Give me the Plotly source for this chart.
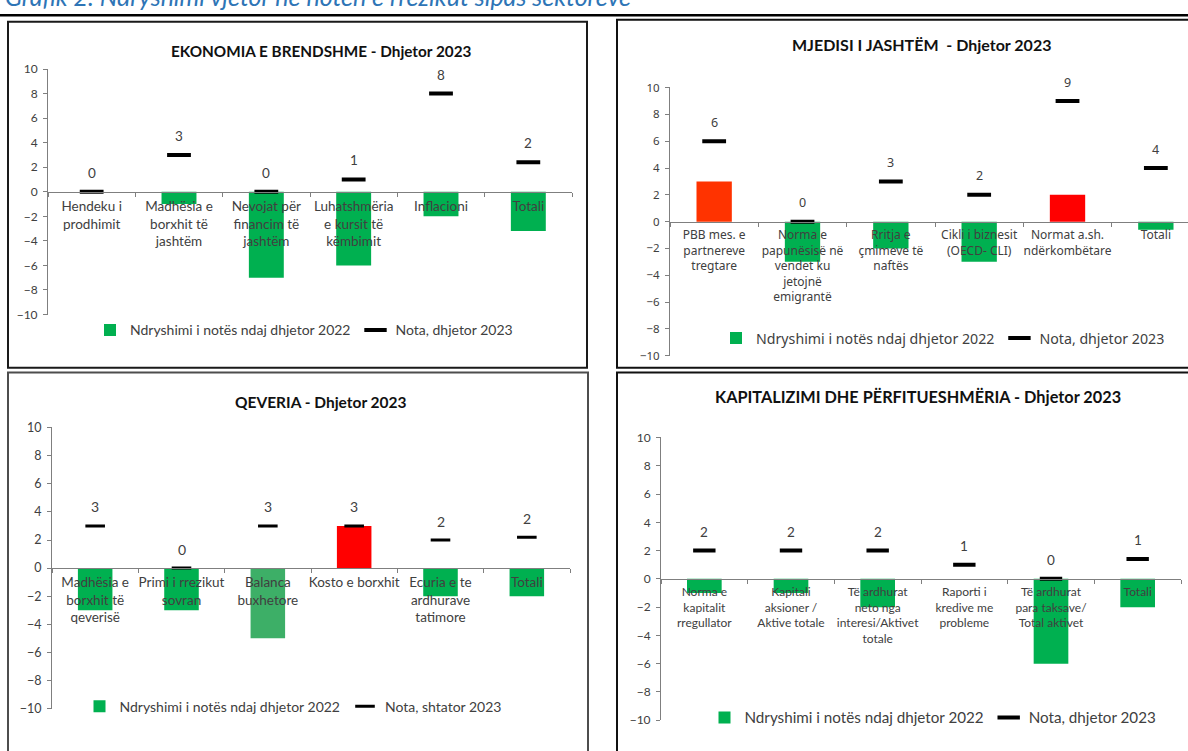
import plotly.graph_objects as go

# ---------------- data ----------------
eko_categories = ["Hendeku i\nprodhimit", "Madhësia e\nborxhit të\njashtëm",
                  "Nevojat për\nfinancim të\njashtëm", "Luhatshmëria\ne kursit të\nkëmbimit",
                  "Inflacioni", "Totali"]
eko_change = [0, -1, -7, -6, -2, -3.2]
eko_grade = [0, 3, 0, 1, 8, 2.4]

jas_categories = ["PBB mes. e\npartnereve\ntregtare",
                  "Norma e\npapunësisë në\nvendet ku\njetojnë\nemigrantë",
                  "Rritja e\nçmimeve të\nnaftës", "Cikli i biznesit\n(OECD- CLI)",
                  "Normat a.sh.\nndërkombëtare", "Totali"]
jas_change = [3, -3, -2, -3, 2, -0.6]
jas_grade = [6, 0, 3, 2, 9, 4]

qev_categories = ["Madhësia e\nborxhit të\nqeverisë", "Primi i rrezikut\nsovran",
                  "Balanca\nbuxhetore", "Kosto e borxhit",
                  "Ecuria e te\nardhurave\ntatimore", "Totali"]
qev_change = [-3, -3, -5, 3, -2, -2]
qev_grade = [3, 0, 3, 3, 2, 2.2]

kap_categories = ["Norma e\nkapitalit\nrregullator", "Kapitali\naksioner /\nAktive totale",
                  "Të ardhurat\nneto nga\ninteresi/Aktivet\ntotale",
                  "Raporti i\nkredive me\nprobleme",
                  "Të ardhurat\npara taksave/\nTotal aktivet", "Totali"]
kap_change = [-1, -1, -2, 0, -6, -2]
kap_grade = [2, 2, 2, 1, 0, 1.4]

y_ticks = [-10, -8, -6, -4, -2, 0, 2, 4, 6, 8, 10]

# ---------------- styling ----------------
W, H = 1188, 751
GREEN = "#00B050"
AXIS = "#7F7F7F"
TXT = "#404040"

eko_colors = [GREEN] * 6
jas_colors = ["#FF3300", GREEN, GREEN, GREEN, "#FF0000", GREEN]
qev_colors = [GREEN, GREEN, "#3DAF67", "#FF0000", GREEN, GREEN]
kap_colors = [GREEN] * 6


def px_x(p):
    return p / W


def px_y(p):
    return 1 - p / H


panels = [
    dict(cats=eko_categories, change=eko_change, grade=eko_grade, colors=eko_colors,
         title="EKONOMIA E BRENDSHME - Dhjetor 2023", title_xy=(321, 44), title_size=15.3,
         xdom=(48, 572), ydom=(62, 313), xrange=(-0.5, 5.5),
         font="Lato", cat_size=13.5, tick_size=12, lab_size=13.5,
         legend_xy=(304, 329), legend_size=14, grade_name="Nota, dhjetor 2023",
         box=(8, 14, 587, 367), box_color="#1A1A1A", dash=17, dash_w=4),
    dict(cats=jas_categories, change=jas_change, grade=jas_grade, colors=jas_colors,
         title="MJEDISI I JASHTËM  - Dhjetor 2023", title_xy=(921, 37), title_size=16,
         xdom=(670, 1188), ydom=(81, 355), xrange=(-0.5, 5.364),
         font="Noto Sans", cat_size=12, tick_size=11.5, lab_size=12.5,
         legend_xy=(943, 337), legend_size=14.2, grade_name="Nota, dhjetor 2023",
         box=(617, 12, 1200, 367), box_color="#111111", dash=17, dash_w=4),
    dict(cats=qev_categories, change=qev_change, grade=qev_grade, colors=qev_colors,
         title="QEVERIA - Dhjetor 2023", title_xy=(321, 402), title_size=15.5,
         xdom=(52, 570), ydom=(428, 715), xrange=(-0.5, 5.5),
         font="Lato", cat_size=13.5, tick_size=12.5, lab_size=14,
         legend_xy=(293, 713), legend_size=14, grade_name="Nota, shtator 2023",
         box=(8, 372, 588, 760), box_color="#4D4D4D", dash=14, dash_w=3),
    dict(cats=kap_categories, change=kap_change, grade=kap_grade, colors=kap_colors,
         title="KAPITALIZIMI DHE PËRFITUESHMËRIA - Dhjetor 2023", title_xy=(918, 396),
         title_size=16.3, xdom=(661, 1181), ydom=(438, 727), xrange=(-0.5, 5.5),
         font="Lato", cat_size=12, tick_size=12, lab_size=13.5,
         legend_xy=(933, 724), legend_size=15.2, grade_name="Nota, dhjetor 2023",
         box=(617, 372, 1200, 760), box_color="#111111", dash=16, dash_w=4),
]

fig = go.Figure()
annotations = []
shapes = []
layout = {}

for i, p in enumerate(panels, start=1):
    sfx = "" if i == 1 else str(i)
    xa, ya = "x" + sfx, "y" + sfx
    leg = "legend" + sfx
    cats = [c.replace("\n", "<br>") for c in p["cats"]]

    # declines (green, shown in legend) and increases (red) drawn as overlaid bars
    down = [v if v <= 0 else None for v in p["change"]]
    up = [v if v > 0 else None for v in p["change"]]
    down_colors = [c if v <= 0 else GREEN for c, v in zip(p["colors"], p["change"])]
    fig.add_trace(go.Bar(
        x=cats, y=down, xaxis=xa, yaxis=ya, name="Ndryshimi i notës ndaj dhjetor 2022",
        marker=dict(color=down_colors, line=dict(width=0)), legend=leg, hoverinfo="skip"))
    fig.add_trace(go.Bar(
        x=cats, y=up, xaxis=xa, yaxis=ya, name="Rritje",
        marker=dict(color=p["colors"], line=dict(width=0)), showlegend=False, hoverinfo="skip"))
    fig.add_trace(go.Scatter(
        x=cats, y=p["grade"], xaxis=xa, yaxis=ya, mode="markers", name=p["grade_name"],
        marker=dict(symbol="line-ew", size=p["dash"], color="black",
                    line=dict(width=p["dash_w"], color="black")),
        legend=leg, hoverinfo="skip"))

    # value labels above the grade dashes
    for c, g in zip(cats, p["grade"]):
        annotations.append(dict(
            x=c, y=g, xref=xa, yref=ya, text=f"{g:.0f}", showarrow=False,
            yshift=19, font=dict(family=p["font"], size=p["lab_size"], color=TXT)))

    y0, y1 = px_y(p["ydom"][1]), px_y(p["ydom"][0])
    layout["xaxis" + sfx] = dict(
        domain=[px_x(p["xdom"][0]), px_x(p["xdom"][1])], anchor="free",
        position=(y0 + y1) / 2, type="category", categoryorder="array",
        categoryarray=cats, range=list(p["xrange"]), showline=True, linecolor=AXIS,
        linewidth=1, ticks="outside", tickson="boundaries", ticklen=4, tickcolor=AXIS,
        showgrid=False, zeroline=False, tickangle=0, fixedrange=True, ticklabelstandoff=2,
        tickfont=dict(family=p["font"], size=p["cat_size"], color=TXT))
    layout["yaxis" + sfx] = dict(
        domain=[y0, y1], anchor=xa, range=[-10.02, 10.02], tickvals=y_ticks,
        showline=True, linecolor=AXIS, linewidth=1, ticks="outside", ticklen=4,
        tickcolor=AXIS, showgrid=False, zeroline=False, fixedrange=True,
        ticklabelstandoff=3,
        tickfont=dict(family=p["font"], size=p["tick_size"], color=TXT))
    layout[leg] = dict(
        orientation="h", x=px_x(p["legend_xy"][0]), y=px_y(p["legend_xy"][1]),
        xanchor="center", yanchor="middle", bgcolor="rgba(0,0,0,0)",
        itemwidth=30, traceorder="normal",
        font=dict(family=p["font"], size=p["legend_size"], color=TXT))

    annotations.append(dict(
        x=px_x(p["title_xy"][0]), y=px_y(p["title_xy"][1]), xref="paper", yref="paper",
        text="<b>" + p["title"] + "</b>", showarrow=False, xanchor="center", yanchor="middle",
        font=dict(family="Lato", size=p["title_size"], color="#111111")))

    bx0, by0, bx1, by1 = p["box"]
    shapes.append(dict(type="rect", xref="paper", yref="paper",
                       x0=px_x(bx0), x1=px_x(bx1), y0=px_y(by1), y1=px_y(by0),
                       line=dict(color=p["box_color"], width=2)))

# page heading (runs off the top edge) and rule above the panels
annotations.append(dict(
    x=px_x(3), y=px_y(-12), xref="paper", yref="paper", xanchor="left", yanchor="middle",
    text="<i>Grafik 2. Ndryshimi vjetor në notën e rrezikut sipas sektorëve</i>",
    showarrow=False, font=dict(family="Lato", size=25, color="#2E75B6")))
shapes.append(dict(type="line", xref="paper", yref="paper", x0=0, x1=1,
                   y0=px_y(7.5), y1=px_y(7.5), line=dict(color="black", width=2.5)))

fig.update_layout(
    width=W, height=H, margin=dict(l=0, r=0, t=0, b=0),
    paper_bgcolor="white", plot_bgcolor="rgba(0,0,0,0)",
    barmode="overlay", bargap=0.6,
    annotations=annotations, shapes=shapes, **layout)

fig.write_html("out.html")
